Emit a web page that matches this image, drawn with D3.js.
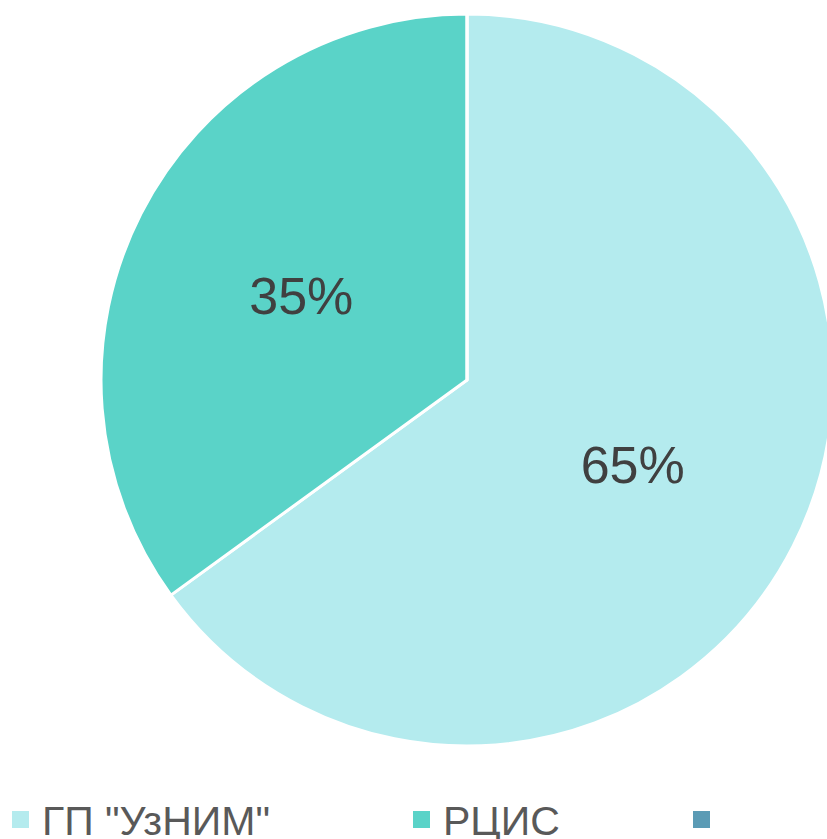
<!DOCTYPE html>
<html>
<head>
<meta charset="utf-8">
<script src="https://cdn.jsdelivr.net/npm/d3@7"></script>
<style>
  body { margin: 0; background: #fff; }
  svg { display: block; }
</style>
</head>
<body>
<svg></svg>
<script>
// data
var categories = ['ГП "УзНИМ"', 'РЦИС', '']
var values = [65, 35, 0]
var labels = ['65%', '35%', '']
var colors = ['#b4ebee', '#5ad3c8', '#5b9bb5']

var svgWidth = 827, svgHeight = 839, radius = 366
var svg = d3.select('svg')
    .attr('width', svgWidth)
    .attr('height', svgHeight)

var g = svg.append('g')
    .attr('transform', 'translate(467,380)')

var pie = d3.pie().sort(null).value(function(d) { return d })
var arcs = pie(values)

var path = d3.arc().outerRadius(radius).innerRadius(0)
// labels sit at about half the radius
var labelArc = d3.arc().outerRadius(186).innerRadius(186)

g.selectAll('path')
    .data(arcs)
    .enter()
    .append('path')
    .attr('d', path)
    .attr('fill', function(d, i) { return colors[i] })
    .attr('stroke', '#fff')
    .attr('stroke-width', 3)
    .attr('stroke-linejoin', 'round')

g.selectAll('text')
    .data(arcs)
    .enter()
    .append('text')
    .attr('transform', function(d) { return 'translate(' + labelArc.centroid(d) + ')' })
    .attr('text-anchor', 'middle')
    .attr('dy', '0.36em')
    .attr('font-family', 'Liberation Sans, Arial, sans-serif')
    .attr('font-size', 52)
    .attr('fill', '#404040')
    .text(function(d, i) { return labels[i] })

// legend
var legendX = [12, 413, 693]
var legend = svg.append('g')
var item = legend.selectAll('g')
    .data(categories)
    .enter()
    .append('g')
    .attr('transform', function(d, i) { return 'translate(' + legendX[i] + ',820)' })

item.append('rect')
    .attr('x', 0)
    .attr('y', -9)
    .attr('width', 17)
    .attr('height', 17)
    .attr('fill', function(d, i) { return colors[i] })

item.append('text')
    .attr('x', 30)
    .attr('y', 15)
    .attr('font-family', 'Liberation Sans, Arial, sans-serif')
    .attr('font-size', 41)
    .attr('fill', '#595959')
    .text(function(d) { return d })
</script>
</body>
</html>
